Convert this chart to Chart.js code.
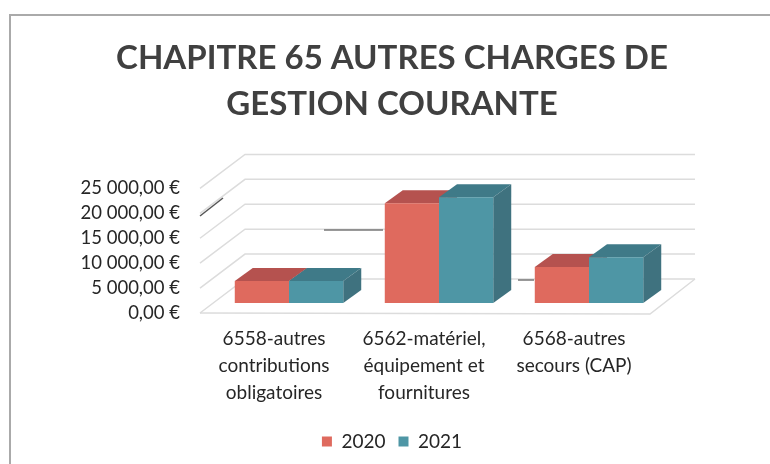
<!DOCTYPE html>
<html lang="fr">
<head>
<meta charset="UTF-8">
<title>Chapitre 65</title>
<script src="https://cdn.jsdelivr.net/npm/chart.js"></script>
<style>
    html, body { margin: 0; padding: 0; background: #fff; overflow: hidden; }
    #frame { position: absolute; left: 9px; top: 14px; width: 761px; height: 450px; border-left: 2px solid #aaa; border-top: 2px solid #aaa; box-sizing: border-box; }
    canvas { position: absolute; left: 0; top: 0; }
</style>
</head>
<body>
<div id="frame"></div>
<canvas id="chart" width="770" height="464"></canvas>
<script>
const titleLines = ['CHAPITRE 65 AUTRES CHARGES DE', 'GESTION COURANTE'];
const categories = [
    ['6558-autres', 'contributions', 'obligatoires'],
    ['6562-matériel,', 'équipement et', 'fournitures'],
    ['6568-autres', 'secours (CAP)']
];
const values2020 = [4400, 20000, 7200];
const values2021 = [4400, 21200, 9200];
const tickLabels = ['0,00 €', '5 000,00 €', '10 000,00 €', '15 000,00 €', '20 000,00 €', '25 000,00 €'];

const fontFamily = 'Lato, sans-serif';
const red = { front: '#df6a5e', top: '#b5524f', side: '#a84c4a' };
const teal = { front: '#4e96a5', top: '#3f7a88', side: '#3f727f' };

// Profondeur de la 3D : mur du fond, sol et cotes des barres
const wallBack = { dx: 31, dy: -24 };
const wallFront = { dx: -14, dy: 10 };
const barDepth = { dx: 18, dy: -13 };

// Traits parasites du scan
const scanMarks = [
    { x1: 200, y1: 216, x2: 223, y2: 198, color: '#555' },
    { x1: 324, y1: 230, x2: 383, y2: 230, color: '#777' },
    { x1: 518, y1: 280, x2: 534, y2: 280, color: '#777' }
];

const walls3d = {
    id: 'walls3d',
    beforeDatasetsDraw(chart) {
        const { ctx, scales: { y }, chartArea } = chart;
        const left = chartArea.left;
        const right = chartArea.right;

        ctx.save();
        ctx.lineWidth = 1.5;
        ctx.strokeStyle = '#dcdcdc';
        y.ticks.forEach((tick) => {
            const py = y.getPixelForValue(tick.value);
            ctx.beginPath();
            ctx.moveTo(left + wallFront.dx, py + wallFront.dy);
            ctx.lineTo(left + wallBack.dx, py + wallBack.dy);
            ctx.lineTo(right + wallBack.dx, py + wallBack.dy);
            ctx.stroke();
        });
        // Bord avant et droit du sol
        const base = y.getPixelForValue(0);
        ctx.beginPath();
        ctx.moveTo(left + wallFront.dx, base + wallFront.dy);
        ctx.lineTo(right + wallFront.dx, base + wallFront.dy + 1);
        ctx.lineTo(right + wallBack.dx, base + wallBack.dy);
        ctx.stroke();

        scanMarks.forEach((m) => {
            ctx.strokeStyle = m.color;
            ctx.beginPath();
            ctx.moveTo(m.x1, m.y1);
            ctx.lineTo(m.x2, m.y2);
            ctx.stroke();
        });

        // Faces du dessus et de cote, les faces avant viennent de Chart.js
        chart.data.datasets.forEach((dataset, i) => {
            const colors = i === 0 ? red : teal;
            chart.getDatasetMeta(i).data.forEach((bar) => {
                const x1 = bar.x - bar.width / 2;
                const x2 = bar.x + bar.width / 2;
                ctx.fillStyle = colors.top;
                ctx.beginPath();
                ctx.moveTo(x1, bar.y);
                ctx.lineTo(x1 + barDepth.dx, bar.y + barDepth.dy);
                ctx.lineTo(x2 + barDepth.dx, bar.y + barDepth.dy);
                ctx.lineTo(x2, bar.y);
                ctx.closePath();
                ctx.fill();
                ctx.fillStyle = colors.side;
                ctx.beginPath();
                ctx.moveTo(x2, bar.y);
                ctx.lineTo(x2 + barDepth.dx, bar.y + barDepth.dy);
                ctx.lineTo(x2 + barDepth.dx, bar.base + barDepth.dy);
                ctx.lineTo(x2, bar.base);
                ctx.closePath();
                ctx.fill();
            });
        });
        ctx.restore();
    }
};

new Chart(document.getElementById('chart').getContext('2d'), {
    type: 'bar',
    plugins: [walls3d],
    data: {
        labels: categories,
        datasets: [
            { label: '2020', data: values2020, backgroundColor: red.front },
            { label: '2021', data: values2021, backgroundColor: teal.front }
        ]
    },
    options: {
        responsive: false,
        animation: false,
        // padding gauche pour centrer le titre et la legende comme l'original
        layout: { padding: { left: 14, right: 0, top: 0, bottom: 3 } },
        datasets: { bar: { categoryPercentage: 0.723, barPercentage: 1 } },
        scales: {
            x: {
                afterFit: (scale) => { scale.height = 116; },
                grid: { display: false, drawTicks: false },
                border: { display: false },
                ticks: {
                    color: '#262626',
                    font: { family: fontFamily, size: 19, lineHeight: 1.4 },
                    padding: 23,
                    labelOffset: -15,
                    maxRotation: 0,
                    autoSkip: false
                }
            },
            y: {
                min: 0,
                max: 25000,
                afterFit: (scale) => { scale.width = 200; },
                grid: { display: false, drawTicks: false },
                border: { display: false },
                ticks: {
                    stepSize: 5000,
                    autoSkip: false,
                    color: '#262626',
                    font: { family: fontFamily, size: 18.5 },
                    padding: 34,
                    labelOffset: 10,
                    callback: (value, index) => tickLabels[index]
                }
            },
            // Axe vide : reserve la marge droite du graphique sans decaler le titre
            spacer: {
                type: 'linear',
                position: 'right',
                afterFit: (scale) => { scale.width = 106; },
                grid: { display: false, drawTicks: false },
                border: { display: false },
                ticks: { display: false }
            }
        },
        plugins: {
            title: {
                display: true,
                text: titleLines,
                color: '#404040',
                font: { family: fontFamily, size: 33, weight: 'bold', lineHeight: 1.4 },
                padding: { top: 35, bottom: 51 }
            },
            legend: {
                position: 'bottom',
                labels: {
                    color: '#262626',
                    font: { family: fontFamily, size: 19 },
                    boxWidth: 10,
                    boxHeight: 10,
                    padding: 13
                }
            },
            tooltip: { enabled: false }
        }
    }
});
</script>
</body>
</html>
